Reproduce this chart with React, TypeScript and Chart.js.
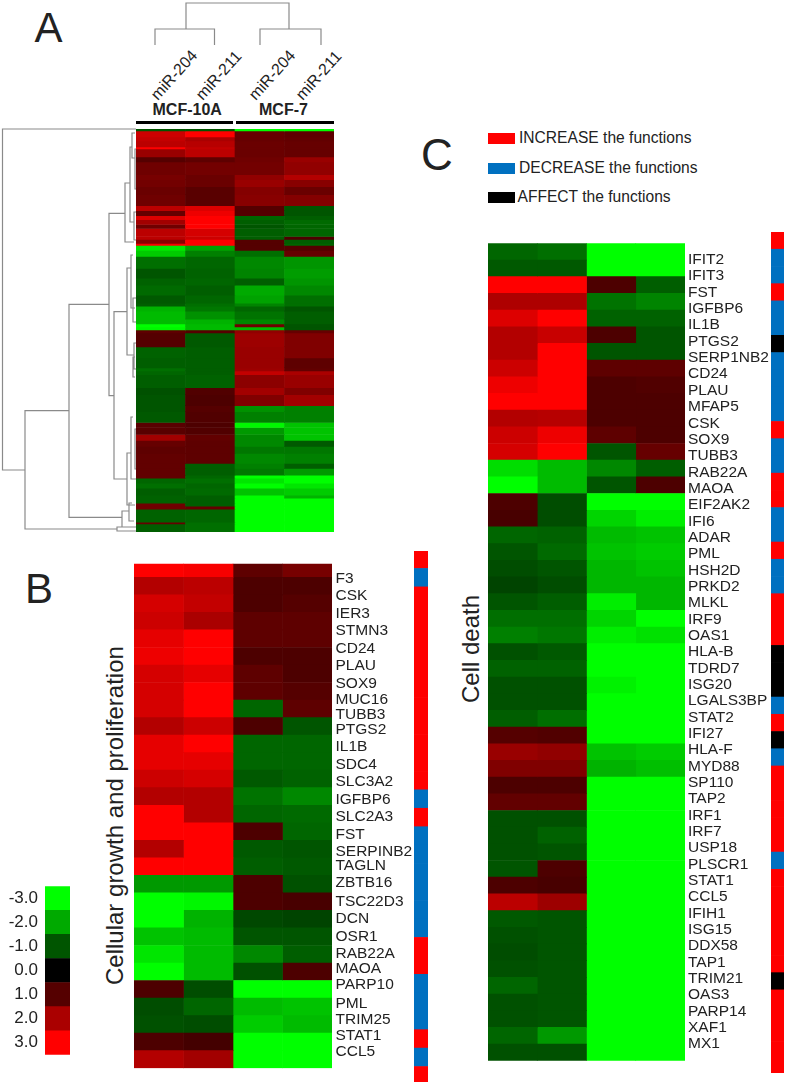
import React, { useEffect, useRef } from "react";
import { Chart, registerables } from "chart.js";

Chart.register(...registerables);

const FONT = "'Liberation Sans', Arial, sans-serif";
const INK = "#222222";
const RED = "#ff0000";
const BLUE = "#0070c0";
const BLACK = "#000000";
const GREY = "#8a8a8a";

// Panel A: clustered heat map, rows are runs of genes with near-equal expression
const columnsA = ["MCF-10A miR-204", "MCF-10A miR-211", "MCF-7 miR-204", "MCF-7 miR-211"];
const bandSizesA = [
  2, 6, 4, 6, 2, 8, 5, 13, 5, 7, 8, 11, 5, 5, 4, 5, 4, 8, 3, 4, 2, 5, 6, 12, 10, 7, 10, 8, 3, 5, 8, 5,
  3, 3, 3, 14, 11, 10, 3, 4, 13, 7, 11, 6, 11, 5, 7, 6, 6, 7, 10, 5, 7, 3, 5, 5, 7, 3, 5, 3, 3, 13, 2, 8,
];
const bandValuesA = [
  [-1, -1, -3, -3], [2.4, 3, 1.2, 1.1], [2.3, 2, 1.2, 1.15], [2.2, 2.15, 1.25, 1.2], [3, 2.3, 1.25, 1.2],
  [1.8, 2.2, 1.25, 1.2], [1, 1.1, 1.3, 1.8], [1.3, 1.35, 1.35, 1.7], [1.4, 1.25, 1.7, 2.1], [1.35, 1.25, 1.8, 1.6],
  [1.25, 1.05, 1.55, 1.25], [1.3, 1.05, 1.6, 1.55], [2.2, 2.6, 1, -1], [1.2, 2.8, 1, -1], [2.6, 3, -1.2, -1.1],
  [1.9, 3, -1.1, -1.25], [1.3, 3, -1, -1.2], [2.2, 2.5, -1.1, -1.2], [2.2, 2.4, -1.1, 0.9], [1.6, 3, 1, -1.1],
  [2.9, 3, 1, -1.2], [-2.7, -1.9, 1, 1], [-2.4, -1.5, -1.3, 1.2], [-1.3, -1.2, -1.6, -1.75], [-1, -1.15, -1.55, -1.85],
  [-1.15, -1.2, -1.1, -1.75], [-1.25, -1.1, -2, -1.6], [-1.05, -1.2, -1.9, -1.3], [-1.1, -1.3, -1.55, -1.3], [-2.1, -1.4, -1.2, -1],
  [-2.2, -1.7, -1.35, -1.1], [-2.2, -2.1, -1.6, -1.1], [-3, -2.2, 1.3, -1], [-2.9, -2.2, -2.2, -1], [1.1, 1, 1.7, 1.2],
  [1, -1.05, 1.85, 1.5], [-1.15, -1.1, 1.8, 1.5], [-1.1, -1.1, 1.8, 1.1], [-1.3, -1.1, 1.85, 1.15], [-1.2, -1.1, 2.3, 2],
  [-1.1, -1.15, 1.65, 1.8], [-0.95, 0.95, 1.9, 1.5], [-1, 0.9, 1.5, 1.9], [-1, 1, -1.7, -1.5], [-1.05, 0.95, -1.5, -1.5],
  [1.05, 0.9, -2.9, -2.3], [1.05, 0.95, -1.8, -2.3], [1.9, 1.15, -1.6, -2.3], [1.2, 1.1, -1.6, -1.05], [1.1, 1.1, -1.4, -1.4],
  [1.15, 1.1, -1.6, -1.5], [1.15, -1.1, -1.5, -1.1], [1.15, -1.1, -1.4, -1.8], [1.15, -1.2, -3, -3], [-1.2, -1.3, -2.7, -3],
  [-1.3, -1.2, -3, -2.7], [-1.1, -1.25, -2.3, -2.4], [-1.15, -1.1, -3, -2.1], [-1.15, -1.1, -3, -3], [1.3, -1.1, -3, -3],
  [1.3, 1.2, -3, -3], [-1.15, -1.2, -3, -3], [1.2, -1.3, -3, -3], [-1.1, -1.3, -3, -3],
];

// Dendrogram joins: [node height, first branch position, first branch height, second branch position, second branch height]
const rowLinksA = [
  [2.5, 0, 136, 341, 25], [25, 281.7, 69, 400, 117], [69, 175.3, 109, 388.3, 122], [109, 84.3, 125, 266.7, 114],
  [125, 54, 130, 113, 134], [130, 18, 132, 93, 134], [132, 4, 135, 29, 135], [134, 83, 136, 111, 136],
  [114, 182.7, 127, 350, 127], [127, 139, 131, 226, 134], [131, 126, 133, 179, 135], [133, 169, 136, 193, 136],
  [134, 214, 136, 240, 136], [127, 324, 131, 376, 135], [131, 288, 133, 350, 136], [133, 228, 135, 248, 135],
  [122, 382, 129, 398, 130], [129, 374, 132, 392, 134], [117, 398, 136, 402, 136], [135, 20, 136, 60, 136],
  [135, 300, 136, 340, 136],
];
const columnLinksA = [
  [3, 186, 29, 289, 29], [29, 155, 45, 214.5, 45], [29, 260, 45, 321, 45],
];

// Panel B
const genesB = [
  "F3", "CSK", "IER3", "STMN3", "CD24", "PLAU", "SOX9", "MUC16", "TUBB3", "PTGS2", "IL1B", "SDC4", "SLC3A2", "IGFBP6", "SLC2A3",
  "FST", "SERPINB2", "TAGLN", "ZBTB16", "TSC22D3", "DCN", "OSR1", "RAB22A", "MAOA", "PARP10", "PML", "TRIM25", "STAT1", "CCL5",
];
const valuesB = [
  [3, 2.9, 1.1, 1.4], [2.1, 2.2, 0.9, 0.9], [2.5, 2.3, 0.9, 1], [2.4, 2, 1.1, 1.1], [2.7, 3, 1.1, 1.1],
  [2.8, 3, 0.9, 0.9], [2.5, 2.7, 1.1, 0.9], [2.5, 3, 1.1, 1], [2.5, 3, -1.2, 1.1], [2.1, 2.4, 0.9, -1],
  [2.7, 3, -1.2, -1.2], [2.7, 2.7, -1.2, -1.2], [2.4, 2.5, -1.05, -1.15], [2.1, 2.1, -1.35, -1.6], [3, 2.1, -1.2, -1.25],
  [3, 3, 0.9, -1.2], [2.1, 3, -1.05, -1], [3, 3, -1.1, -1.05], [-1.8, -1.8, 0.9, -0.95], [-3, -2.9, 0.9, 0.85],
  [-3, -2.1, -0.85, -0.8], [-2.3, -2.2, -1, -1], [-2.7, -2.2, -1.6, -1.1], [-3, -2.2, -0.95, 0.9], [0.9, -0.9, -3, -3],
  [-0.9, -1.2, -2.2, -2.3], [-0.95, -0.9, -2.4, -2.2], [0.9, 0.8, -3, -3], [2.1, 1.9, -3, -3],
];
// Where each gene name sits, in rows: the names do not follow the cells exactly
const labelRowsB = [
  0.08, 1.11, 2.15, 3.19, 4.23, 5.26, 6.29, 7.27, 8.14, 9.0, 10.04, 11.07, 12.1, 13.13, 14.17,
  15.2, 16.23, 17.04, 18.08, 19.17, 20.2, 21.23, 22.26, 23.13, 24.1, 25.19, 26.17, 27.09, 28.07,
];
const effectsB = [
  RED, BLUE, RED, RED, RED, RED, RED, RED, RED, RED, RED, RED, RED, BLUE, RED,
  BLUE, BLUE, BLUE, BLUE, BLUE, BLUE, RED, RED, BLUE, BLUE, BLUE, RED, BLUE, RED,
];

// Panel C
const genesC = [
  "IFIT2", "IFIT3", "FST", "IGFBP6", "IL1B", "PTGS2", "SERP1NB2", "CD24", "PLAU", "MFAP5", "CSK", "SOX9", "TUBB3", "RAB22A", "MAOA",
  "EIF2AK2", "IFI6", "ADAR", "PML", "HSH2D", "PRKD2", "MLKL", "IRF9", "OAS1", "HLA-B", "TDRD7", "ISG20", "LGALS3BP", "STAT2", "IFI27",
  "HLA-F", "MYD88", "SP110", "TAP2", "IRF1", "IRF7", "USP18", "PLSCR1", "STAT1", "CCL5", "IFIH1", "ISG15", "DDX58", "TAP1", "TRIM21",
  "OAS3", "PARP14", "XAF1", "MX1",
];
const valuesC = [
  [-1.2, -1.3, -3, -3], [-1.05, -1.05, -3, -3], [3, 3, 0.9, -1.1], [2.05, 2.05, -1.35, -1.55], [2.6, 3, -1.15, -1.15],
  [2.1, 2.35, 0.9, -1], [2.1, 3, -1, -1], [2.4, 3, 1.1, 1.1], [2.8, 3, 0.9, 0.95], [3, 3, 0.9, 0.9],
  [2.1, 2.15, 0.9, 0.9], [2.4, 2.8, 1.1, 0.9], [2.5, 3, -1, 1.2], [-2.6, -2.2, -1.6, -1.1], [-3, -2.2, -1, 0.9],
  [0.9, -0.9, -3, -3], [0.85, -0.9, -2.5, -2.8], [-1.2, -1.15, -2.2, -2.3], [-1, -1.25, -2.3, -2.4], [-0.9, -1, -2.15, -2.3],
  [-0.8, -0.9, -2.15, -2.15], [-1, -1.1, -2.8, -2.15], [-1.3, -1.3, -2.5, -3], [-1.5, -1.4, -2.8, -2.65], [-0.95, -1.05, -3, -3],
  [-1.15, -1.15, -3, -3], [-0.95, -0.95, -2.85, -3], [-0.95, -0.95, -3, -3], [-1.1, -1.3, -3, -3], [1, 0.95, -3, -3],
  [1.8, 1.7, -2.3, -2.4], [1.5, 1.5, -2.1, -2.25], [0.9, 0.9, -3, -3], [1.15, 1.15, -3, -3], [-0.95, -0.95, -3, -3],
  [-0.95, -1.15, -3, -3], [-0.95, -1, -3, -3], [-1, 0.9, -3, -3], [0.9, 0.85, -3, -3], [2.2, 1.85, -3, -3],
  [-1.05, -1, -3, -3], [-0.95, -1, -3, -3], [-0.9, -1, -3, -3], [-0.95, -1, -3, -3], [-1.2, -1, -3, -3],
  [-0.95, -1, -3, -3], [-0.95, -1, -3, -3], [-1.2, -1.8, -3, -3], [-0.95, -0.95, -3, -3],
];
const effectsC = [
  RED, BLUE, BLUE, RED, BLUE, BLUE, BLACK, BLUE, BLUE, BLUE, BLUE, RED, BLUE, BLUE, RED,
  RED, BLUE, BLUE, RED, BLUE, BLUE, RED, RED, RED, BLACK, BLACK, BLACK, BLUE, RED, BLACK,
  BLUE, RED, RED, RED, RED, RED, BLUE, RED, RED, RED, RED, RED, RED, BLACK, RED,
  RED, RED, RED, RED,
];

// Colour key
const keyValues = [-3, -2, -1, 0, 1, 2, 3];
const keyLabels = ["-3.0", "-2.0", "-1.0", "0.0", "1.0", "2.0", "3.0"];

const legendItems = [
  { label: "INCREASE the functions", color: RED },
  { label: "DECREASE the functions", color: BLUE },
  { label: "AFFECT the functions", color: BLACK },
];

const heatColor = (v: number) => {
  const level = Math.min(255, Math.round(Math.abs(v) * 85));
  return v >= 0 ? `rgb(${level},0,0)` : `rgb(0,${level},0)`;
};

const hiddenAxis = { display: false, grid: { display: false }, border: { display: false } };
const quietPlugins = { legend: { display: false }, tooltip: { enabled: false } };

function rowChart(canvas: HTMLCanvasElement, rows: string[], colors: string[][], opts: any = {}) {
  const nCols = colors[0].length;
  const datasets = Array.from({ length: nCols }, (_, c) => ({
    data: rows.map(() => [c, c + 1]),
    backgroundColor: colors.map((r) => r[c]),
    barPercentage: 1,
    categoryPercentage: 1,
    grouped: false,
    clip: { top: -(opts.clipTop || 0), left: 0, right: 0, bottom: -(opts.clipBottom || 0) },
  }));
  const scales: any = {
    x: { ...hiddenAxis, type: "linear", min: 0, max: nCols },
    y: { ...hiddenAxis, type: "category", offset: true },
  };
  if (opts.key) {
    scales.y = {
      type: "category",
      display: true,
      position: "left",
      grid: { display: false, drawTicks: false },
      border: { display: false },
      ticks: { color: INK, font: { family: FONT, size: 17 }, padding: 7, autoSkip: false },
      afterFit: (s: any) => { s.width = opts.key; },
    };
  }
  if (opts.labelWidth) {
    const where = opts.labelRows || rows.map((_: string, i: number) => i);
    scales.names = {
      type: "linear",
      axis: "y",
      position: "right",
      reverse: true,
      min: -0.5,
      max: rows.length - 0.5,
      grid: { display: false, drawTicks: false },
      border: { display: false },
      afterBuildTicks: (s: any) => { s.ticks = where.map((value: number) => ({ value })); },
      afterFit: (s: any) => { s.width = opts.labelWidth; },
      ticks: {
        color: INK,
        font: { family: FONT, size: 15.5 },
        padding: opts.labelGap,
        autoSkip: false,
        callback: (_: any, i: number) => rows[i],
      },
    };
  }
  return new Chart(canvas, {
    type: "bar",
    data: { labels: rows, datasets },
    options: {
      indexAxis: "y",
      animation: false,
      responsive: false,
      maintainAspectRatio: false,
      layout: { padding: 0, autoPadding: false },
      plugins: quietPlugins,
      scales,
    },
  } as any);
}

function clusteredChart(canvas: HTMLCanvasElement) {
  const total = bandSizesA.reduce((a, b) => a + b, 0);
  return new Chart(canvas, {
    type: "bar",
    data: {
      labels: columnsA,
      datasets: bandSizesA.map((size, i) => ({
        data: columnsA.map(() => size),
        backgroundColor: bandValuesA[i].map(heatColor),
        barPercentage: 1,
        categoryPercentage: 1,
        stack: "rows",
      })),
    },
    options: {
      animation: false,
      responsive: false,
      maintainAspectRatio: false,
      layout: { padding: 0, autoPadding: false },
      plugins: quietPlugins,
      scales: {
        x: { ...hiddenAxis, stacked: true },
        y: { ...hiddenAxis, stacked: true, min: 0, max: total, reverse: true },
      },
    },
  } as any);
}

function treeChart(canvas: HTMLCanvasElement, links: number[][], sideways: boolean, xr: number[], yr: number[]) {
  const pts: any[] = [];
  links.forEach(([h, a, ha, b, hb]) => {
    const p = sideways
      ? [[ha, a], [h, a], [h, b], [hb, b]]
      : [[a, ha], [a, h], [b, h], [b, hb]];
    p.forEach(([x, y]) => pts.push({ x, y }));
    pts.push({ x: null, y: null });
  });
  return new Chart(canvas, {
    type: "scatter",
    data: {
      datasets: [{
        data: pts,
        showLine: true,
        spanGaps: false,
        pointRadius: 0,
        borderColor: GREY,
        borderWidth: 1.2,
        clip: false,
      }],
    },
    options: {
      animation: false,
      responsive: false,
      maintainAspectRatio: false,
      layout: { padding: 0, autoPadding: false },
      plugins: quietPlugins,
      scales: {
        x: { ...hiddenAxis, type: "linear", min: xr[0], max: xr[1] },
        y: { ...hiddenAxis, type: "linear", min: yr[0], max: yr[1], reverse: true },
      },
    },
  } as any);
}

const place = (left: number, top: number, width: number, height: number): React.CSSProperties => ({
  position: "absolute", left, top, width, height, display: "block",
});

function Txt({ x, y, size, children, bold, rotate }: any) {
  return (
    <span
      style={{
        position: "absolute", left: x, top: y, fontFamily: FONT, fontSize: size, lineHeight: 1,
        color: INK, whiteSpace: "nowrap", fontWeight: bold ? "bold" : "normal",
        transform: rotate ? `rotate(${rotate}deg)` : undefined, transformOrigin: "0 100%",
      }}
    >
      {children}
    </span>
  );
}

export default function App() {
  const a = useRef<HTMLCanvasElement>(null);
  const aRows = useRef<HTMLCanvasElement>(null);
  const aCols = useRef<HTMLCanvasElement>(null);
  const b = useRef<HTMLCanvasElement>(null);
  const bSide = useRef<HTMLCanvasElement>(null);
  const c = useRef<HTMLCanvasElement>(null);
  const cSide = useRef<HTMLCanvasElement>(null);
  const key = useRef<HTMLCanvasElement>(null);

  useEffect(() => {
    document.body.style.margin = "0";
    const charts = [
      clusteredChart(a.current!),
      treeChart(aRows.current!, rowLinksA, true, [0, 136], [-4, 405]),
      treeChart(aCols.current!, columnLinksA, false, [136, 340], [0, 46]),
      rowChart(b.current!, genesB, valuesB.map((r) => r.map(heatColor)), { labelWidth: 82, labelRows: labelRowsB, labelGap: 3.5, clipTop: 4 }),
      rowChart(bSide.current!, genesB, effectsB.map((e) => [e]), { clipTop: 1, clipBottom: 3 }),
      rowChart(c.current!, genesC, valuesC.map((r) => r.map(heatColor)), { labelWidth: 84, labelGap: 3 }),
      rowChart(cSide.current!, genesC, effectsC.map((e) => [e]), { clipBottom: 3 }),
      rowChart(key.current!, keyLabels, keyValues.map((v) => [heatColor(v)]), { key: 45 }),
    ];
    return () => charts.forEach((ch) => ch.destroy());
  }, []);

  return (
    <div style={{ position: "absolute", left: 0, top: 0, width: 787, height: 1085, background: "#fff", overflow: "hidden", filter: "blur(0.35px)" }}>
      <canvas ref={a} width={198} height={403} style={place(136, 129, 198, 403)} />
      <canvas ref={aRows} width={136} height={409} style={place(0, 125, 136, 409)} />
      <canvas ref={aCols} width={204} height={46} style={place(136, 0, 204, 46)} />
      <canvas ref={b} width={280} height={534} style={place(134, 547, 280, 534)} />
      <canvas ref={bSide} width={14} height={535} style={place(414, 550, 14, 535)} />
      <canvas ref={c} width={281} height={842} style={place(488, 231, 281, 842)} />
      <canvas ref={cSide} width={13} height={844} style={place(771, 232, 13, 844)} />
      <canvas ref={key} width={70} height={203} style={place(0, 869, 70, 203)} />

      <Txt x={34.5} y={7} size={42}>A</Txt>
      <Txt x={25} y={568} size={42}>B</Txt>
      <Txt x={421} y={133} size={44}>C</Txt>

      <Txt x={160} y={87} size={16} rotate={-48}>miR-204</Txt>
      <Txt x={205} y={87} size={16} rotate={-48}>miR-211</Txt>
      <Txt x={258} y={87} size={16} rotate={-48}>miR-204</Txt>
      <Txt x={305} y={87} size={16} rotate={-48}>miR-211</Txt>
      <Txt x={152.5} y={102} size={16} bold>MCF-10A</Txt>
      <Txt x={259} y={102} size={16} bold>MCF-7</Txt>
      <div style={{ position: "absolute", left: 136, top: 121, width: 97, height: 3, background: "#000" }} />
      <div style={{ position: "absolute", left: 236, top: 121, width: 98, height: 3, background: "#000" }} />

      <Txt x={127} y={985 - 24} size={24} rotate={-90}>Cellular growth and proliferation</Txt>
      <Txt x={483} y={703 - 24} size={24} rotate={-90}>Cell death</Txt>

      {legendItems.map((item, i) => (
        <React.Fragment key={item.label}>
          <div style={{ position: "absolute", left: 488, top: 133 + i * 29.5, width: 27, height: 11, background: item.color }} />
          <Txt x={i === 2 ? 517.5 : 519} y={130 + i * 29.5} size={15.6}>{item.label}</Txt>
        </React.Fragment>
      ))}
    </div>
  );
}
